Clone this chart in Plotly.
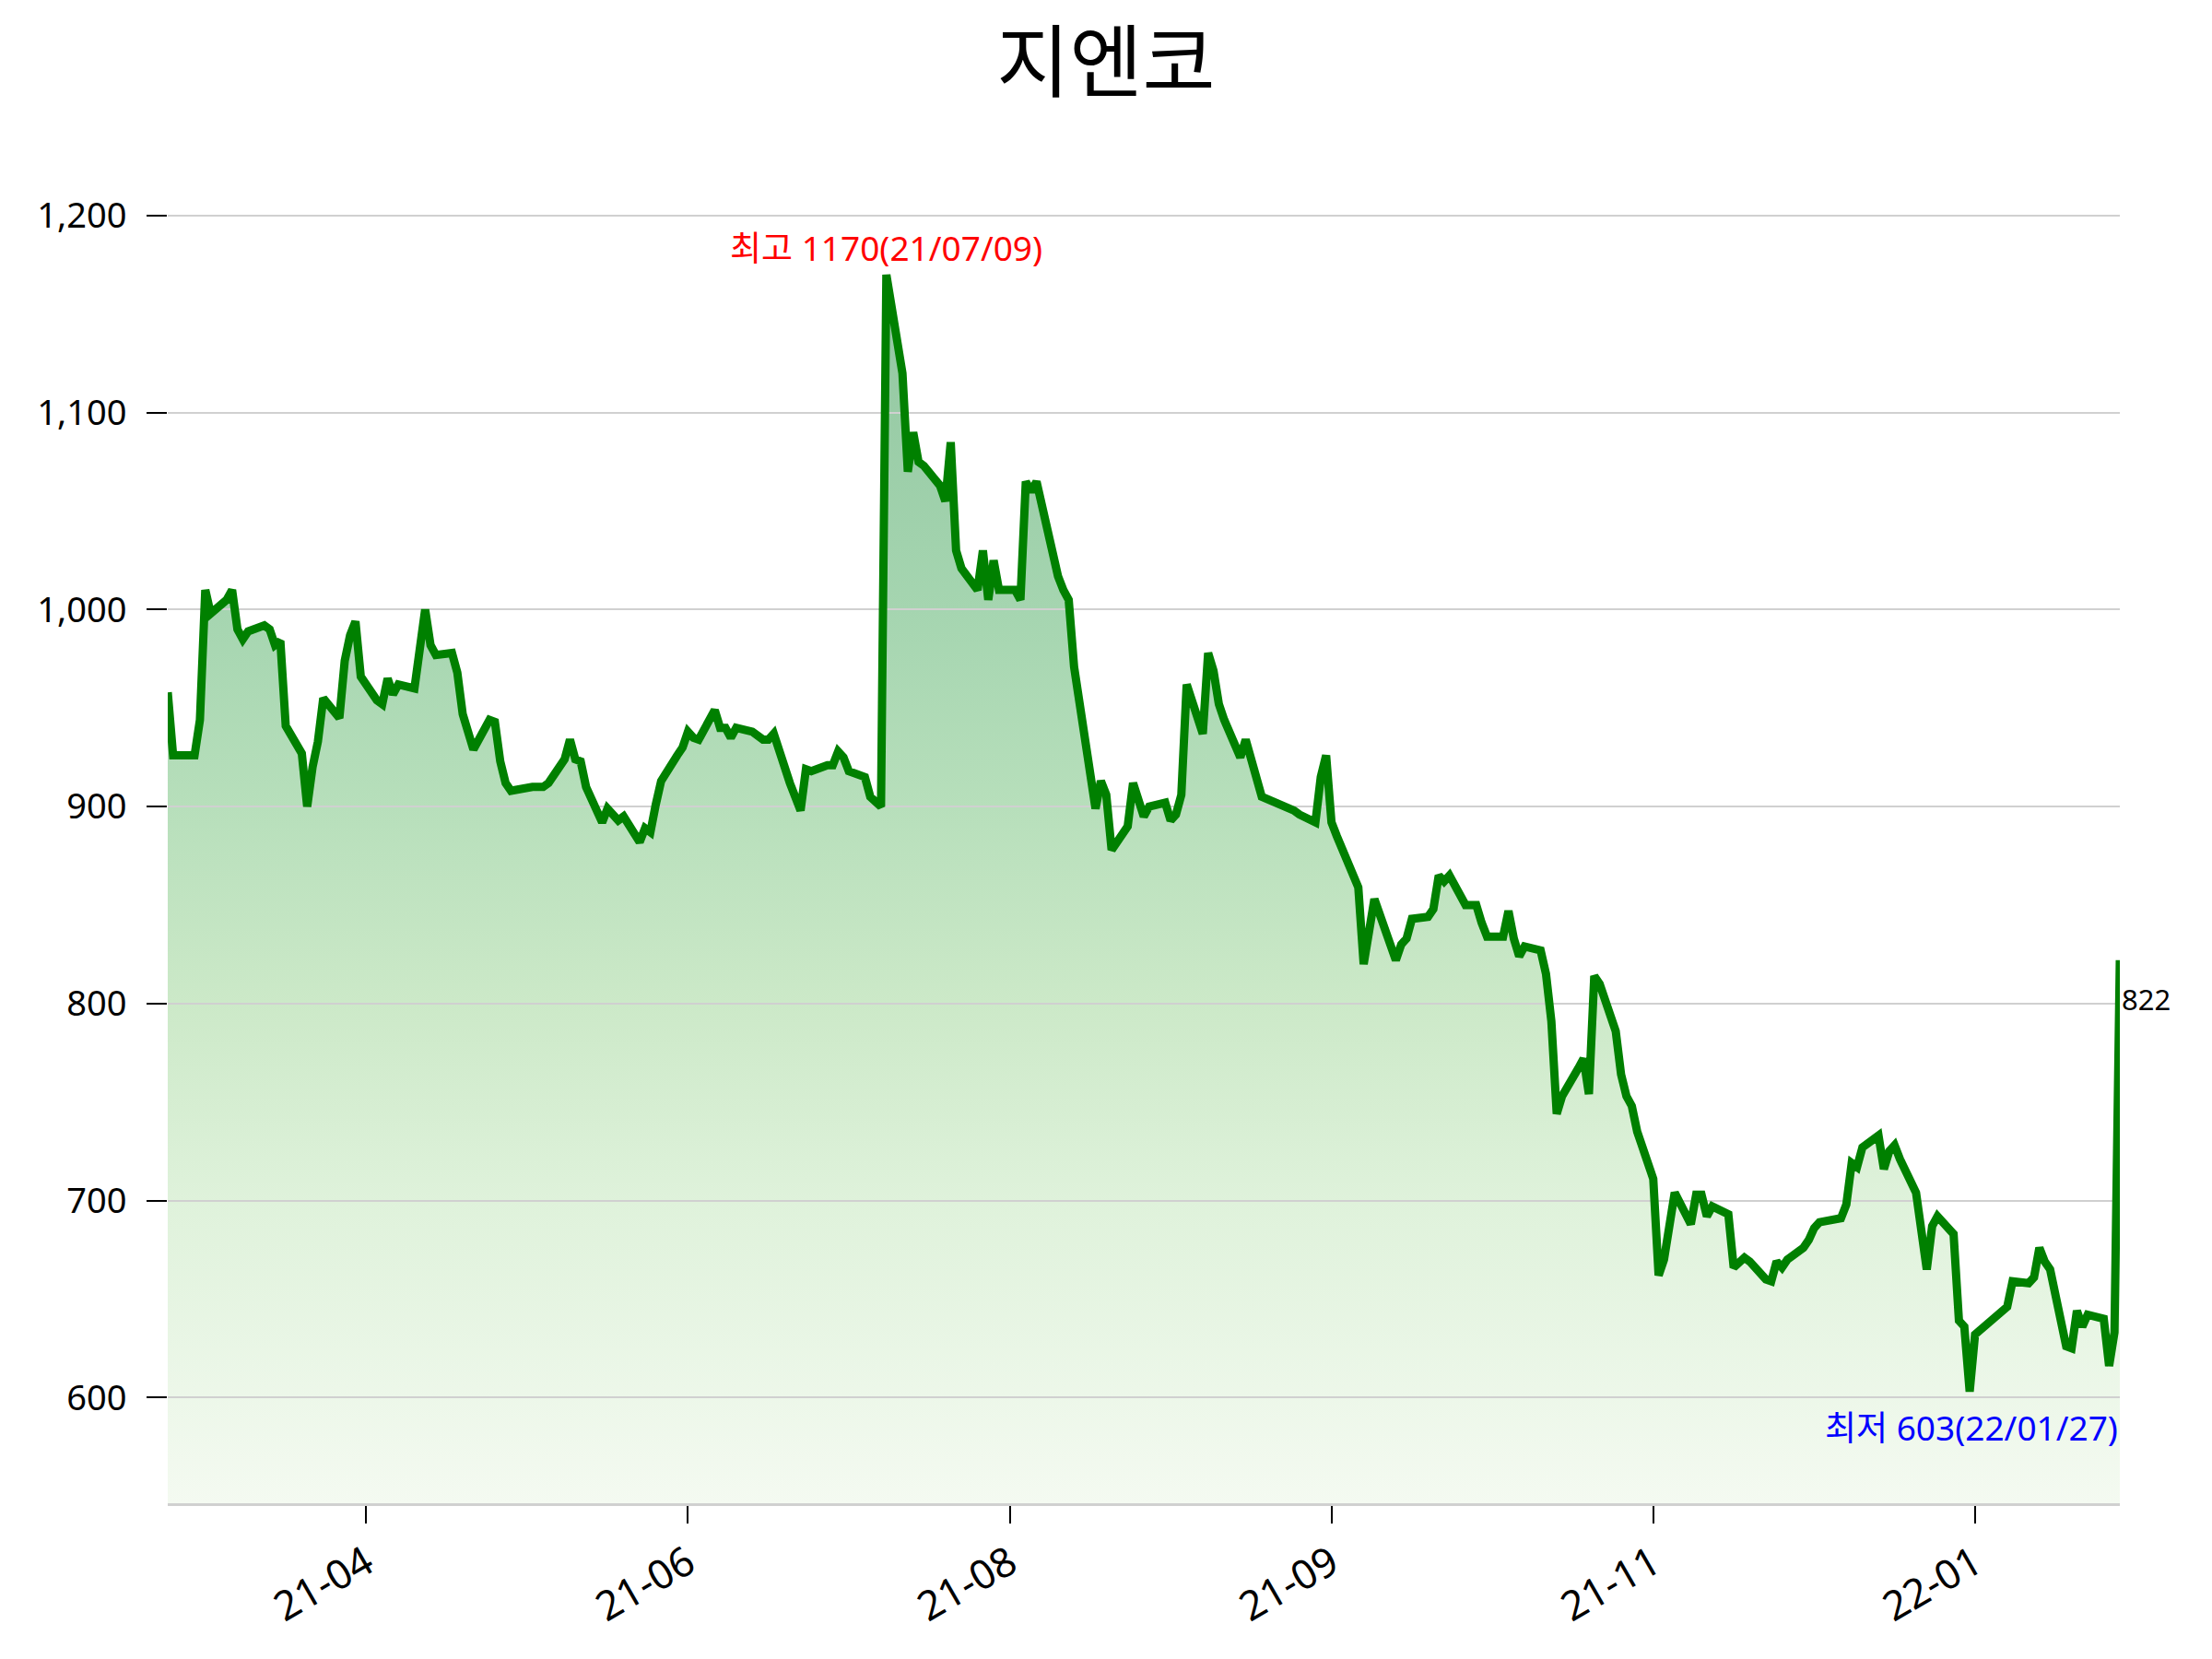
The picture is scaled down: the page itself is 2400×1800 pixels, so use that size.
import pandas as pd
import plotly.graph_objects as go

TITLE = "지엔코"

# KRX closed days (weekdays) inside the period
holidays = ["2021-03-01", "2021-05-05", "2021-05-19", "2021-08-16", "2021-09-20",
            "2021-09-21", "2021-09-22", "2021-10-04", "2021-10-11", "2021-12-31",
            "2022-01-31", "2022-02-01", "2022-02-02"]
start_date = "2021-02-25"
end_date = "2022-02-24"

# Daily closing prices, month by month
close_2021_02 = [958, 926]
close_2021_03 = [926, 944, 1010, 998, 1005, 1010, 990, 985, 989, 992, 990, 982, 984, 941,
                 927, 900, 920, 933, 955, 945, 974, 987]
close_2021_04 = [994, 966, 954, 952, 965, 957, 962, 960, 980, 1000, 982, 977, 978, 968,
                 947, 937, 929, 944, 943, 923, 912, 908]
close_2021_05 = [910, 910, 910, 912, 924, 934, 924, 923, 910, 892, 899, 893, 895, 882,
                 889, 887, 901, 913, 926]
close_2021_06 = [930, 938, 935, 934, 949, 940, 940, 935, 940, 938, 936, 934, 934, 937,
                 912, 905, 898, 919, 918, 921, 921, 928]
close_2021_07 = [925, 918, 915, 905, 903, 900, 1170, 1120, 1070, 1090, 1075, 1073, 1063,
                 1055, 1085, 1030, 1021, 1010, 1030, 1005, 1025, 1010]
close_2021_08 = [1010, 1005, 1065, 1060, 1065, 1029, 1017, 1010, 1005, 971, 899, 913, 906,
                 878, 890, 912, 902, 895, 900, 902, 893]
close_2021_09 = [896, 906, 962, 937, 978, 969, 952, 944, 925, 934, 923, 912, 905, 898,
                 896, 892, 915, 926, 892]
close_2021_10 = [885, 859, 820, 838, 853, 822, 830, 833, 843, 844, 848, 865, 862, 865,
                 850, 850, 850, 841, 834]
close_2021_11 = [834, 847, 833, 824, 829, 827, 815, 791, 744, 753, 767, 772, 754, 814,
                 810, 786, 764, 753, 748, 735, 711, 662]
close_2021_12 = [670, 690, 704, 688, 703, 703, 692, 697, 693, 666, 668, 671, 669, 660,
                 659, 669, 666, 670, 676, 680, 686, 689]
close_2022_01 = [691, 698, 719, 717, 727, 733, 716, 725, 728, 721, 704, 681, 665, 687,
                 692, 683, 639, 636, 603, 632]
close_2022_02 = [646, 659, 658, 661, 676, 669, 665, 626, 625, 644, 636, 642, 640, 616,
                 633, 822]

closes = (close_2021_02 + close_2021_03 + close_2021_04 + close_2021_05 + close_2021_06
          + close_2021_07 + close_2021_08 + close_2021_09 + close_2021_10 + close_2021_11
          + close_2021_12 + close_2022_01 + close_2022_02)

dates = [d for d in pd.bdate_range(start_date, end_date)
         if d.strftime("%Y-%m-%d") not in holidays]
assert len(dates) == len(closes), (len(dates), len(closes))

tick_dates = ["2021-04-03", "2021-06-02", "2021-08-01", "2021-09-30", "2021-11-29", "2022-01-28"]
tick_labels = ["21-04", "21-06", "21-08", "21-09", "21-11", "22-01"]
y_ticks = [600, 700, 800, 900, 1000, 1100, 1200]

hi_val = max(closes)
lo_val = min(closes)
i_hi = closes.index(hi_val)
i_lo = closes.index(lo_val)
span = hi_val - lo_val
y_lo = lo_val - span * 0.1
y_hi = hi_val + span * 0.1

FONT = "Noto Sans, Noto Sans CJK KR"

fig = go.Figure()

# gradient area (drawn on the lower subplot so that the grid sits above it)
fig.add_trace(go.Scatter(
    x=dates, y=closes, mode="lines", line=dict(width=0, color="rgba(0,0,0,0)"),
    fill="tozeroy",
    fillgradient=dict(
        type="vertical", start=y_lo, stop=hi_val,
        colorscale=[[0.0, "rgb(244,250,241)"], [0.246, "rgb(223,242,219)"],
                    [0.407, "rgb(204,233,200)"], [0.567, "rgb(183,223,187)"],
                    [0.727, "rgb(165,213,176)"], [1.0, "rgb(145,198,160)"]]),
    xaxis="x", yaxis="y", hoverinfo="skip", showlegend=False))

# price line
fig.add_trace(go.Scatter(
    x=dates, y=closes, mode="lines", line=dict(color="#008000", width=9),
    xaxis="x2", yaxis="y2", showlegend=False))

fig.update_layout(
    width=2400, height=1800,
    margin=dict(l=182, r=100, t=177, b=169),
    paper_bgcolor="white", plot_bgcolor="rgba(0,0,0,0)",
    font=dict(family=FONT, size=37, color="black"),
    showlegend=False,
    title=dict(text=TITLE, x=0.5, xref="container", xanchor="center",
               y=1 - 69 / 1800, yref="container", yanchor="middle",
               font=dict(size=86, family="Noto Sans CJK KR", color="black")),
    xaxis=dict(type="date", range=[dates[0], dates[-1]], visible=False),
    yaxis=dict(range=[y_lo, y_hi], visible=False),
    xaxis2=dict(type="date", range=[dates[0], dates[-1]], anchor="y2",
                tickmode="array", tickvals=tick_dates, ticktext=tick_labels,
                tickangle=-30, ticks="outside", ticklen=19, tickwidth=2, tickcolor="black",
                showline=True, linecolor="#d0d0d0", linewidth=3,
                showgrid=False, zeroline=False, tickfont=dict(size=44)),
    yaxis2=dict(range=[y_lo, y_hi], anchor="x2",
                tickmode="array", tickvals=y_ticks, tickformat=",",
                ticks="outside", ticklen=22, tickwidth=2, tickcolor="black",
                showline=False, showgrid=True, gridcolor="#d0d0d0", gridwidth=2,
                zeroline=False, ticklabelstandoff=14, tickfont=dict(size=38)),
)

fig.add_annotation(
    x=dates[i_hi], y=hi_val, xref="x2", yref="y2",
    text=f"최고 {hi_val}({dates[i_hi]:%y/%m/%d})", showarrow=False,
    xanchor="center", yanchor="middle", yshift=30,
    font=dict(color="red", size=37, family=FONT))
fig.add_annotation(
    x=dates[-1], y=lo_val, xref="x2", yref="y2",
    text=f"최저 {lo_val}({dates[i_lo]:%y/%m/%d})", showarrow=False,
    xanchor="right", yanchor="middle", yshift=-39,
    font=dict(color="blue", size=37, family=FONT))
fig.add_annotation(
    x=dates[-1], y=closes[-1], xref="x2", yref="y2",
    text=f"{closes[-1]}", showarrow=False,
    xanchor="left", yanchor="middle", yshift=-42,
    font=dict(color="black", size=31, family=FONT))

fig.write_html("out.html")
